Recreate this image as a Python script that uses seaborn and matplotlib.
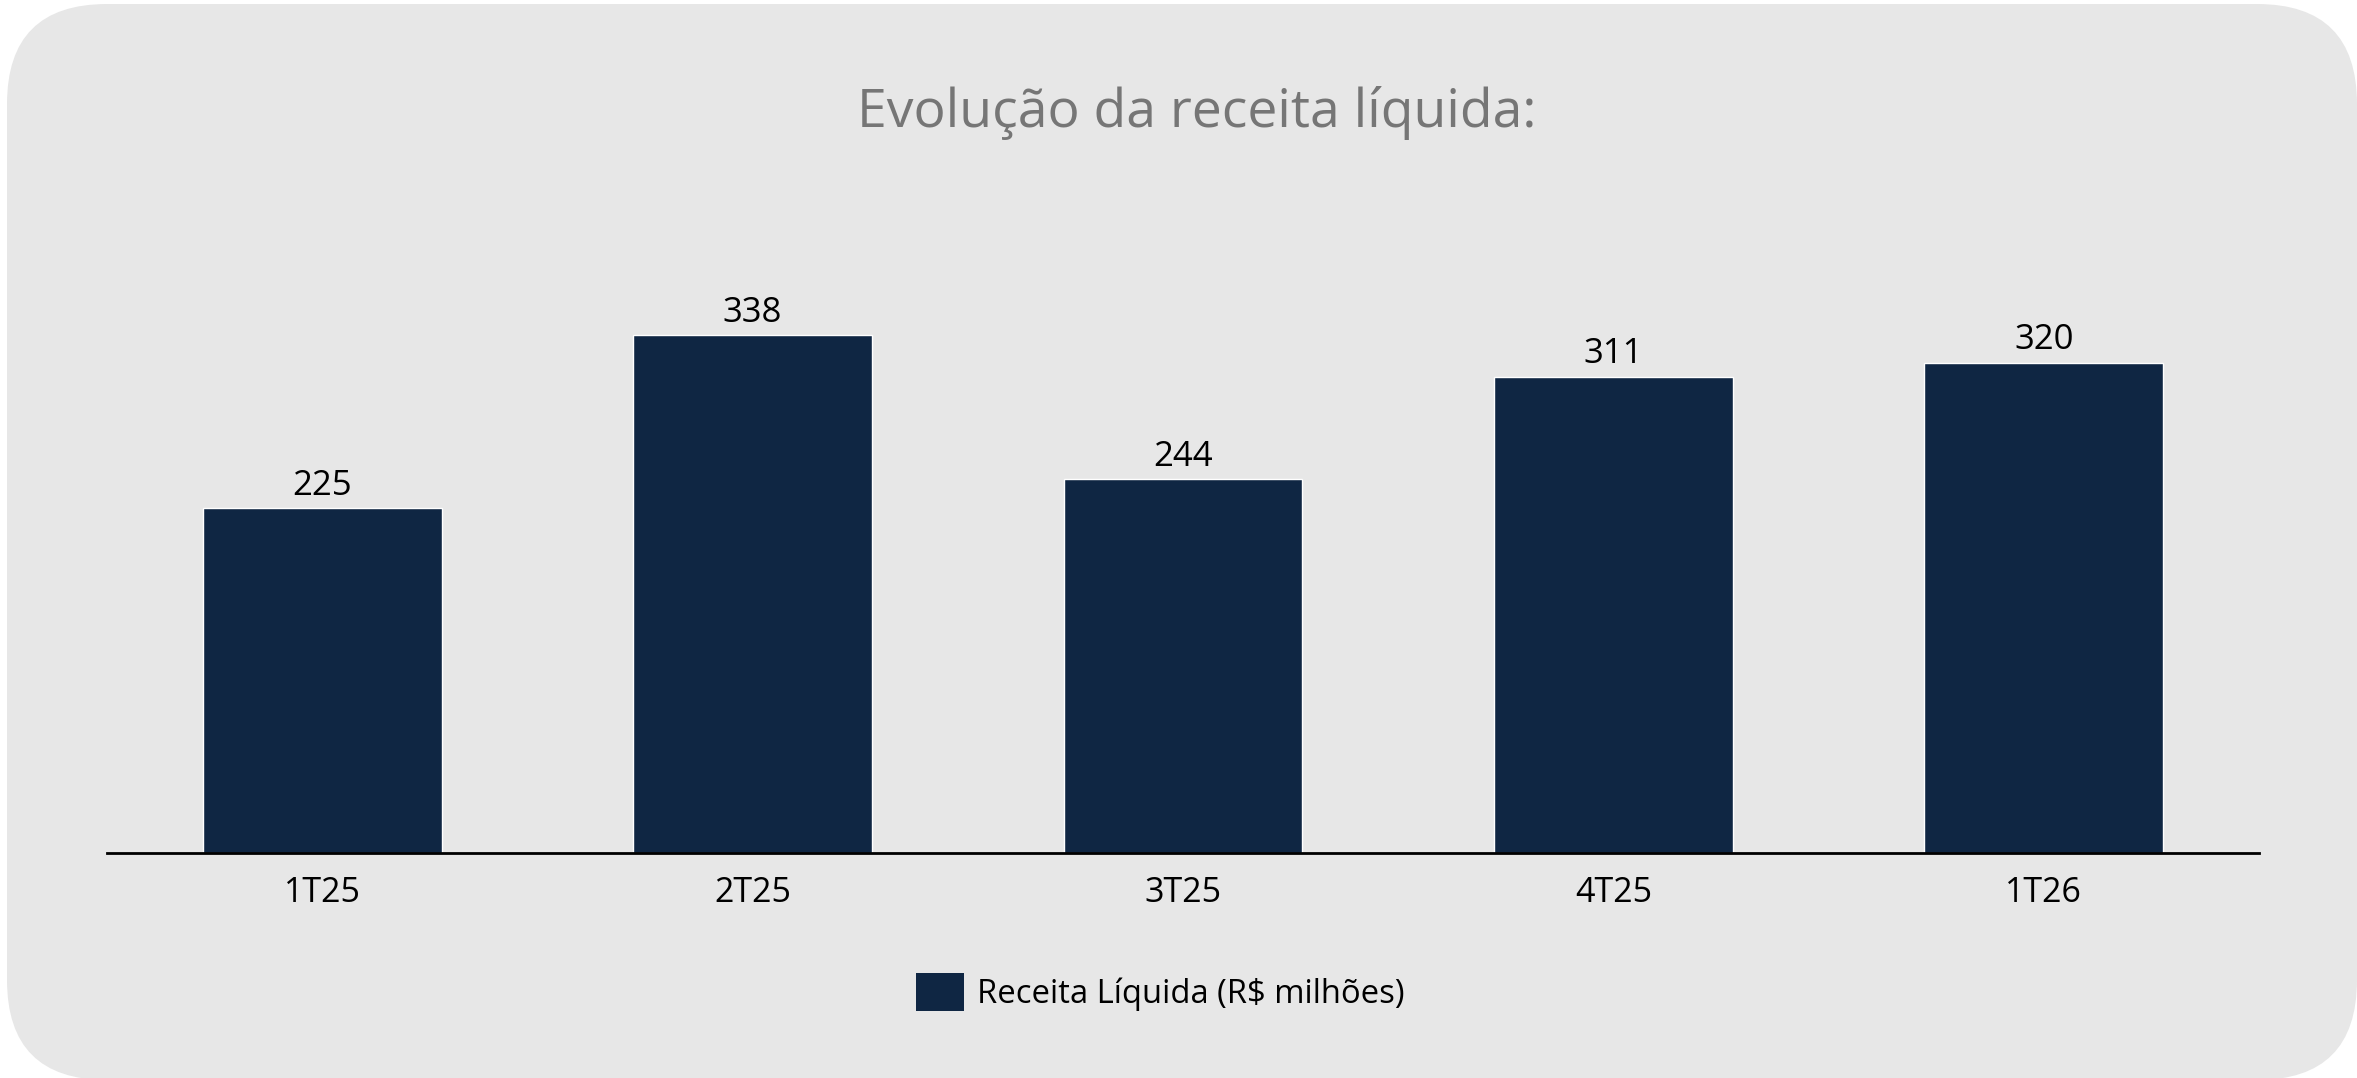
"""
Evolução da receita líquida - gráfico de barras
"""
import matplotlib

matplotlib.use("Agg")
import matplotlib.pyplot as plt
from matplotlib.patches import FancyBboxPatch, Patch
import seaborn as sns

# dados
trimestres = ["1T25", "2T25", "3T25", "4T25", "1T26"]
receita = [225, 338, 244, 311, 320]
titulo = "Evolução da receita líquida:"
legenda = "Receita Líquida (R$ milhões)"

cor_barra = "#0F2643"
cor_fundo = "#E7E7E7"
cor_titulo = "#767676"

sns.set_theme(style="white")
plt.rcParams["font.family"] = ["Open Sans", "DejaVu Sans"]

W, H = 2357, 1078
fig = plt.figure(figsize=(W / 100, H / 100), dpi=100)
fig.patch.set_facecolor("white")

# fundo arredondado
bg = fig.add_axes([0, 0, 1, 1], zorder=-10)
bg.set_xlim(0, W)
bg.set_ylim(H, 0)
bg.axis("off")
bg.add_patch(
    FancyBboxPatch(
        (7, 4), W - 7, H - 4 + 2,
        boxstyle="round,pad=0,rounding_size=100",
        facecolor=cor_fundo, edgecolor="none",
    )
)

# gráfico
ax = fig.add_axes([107 / W, 1 - 852.7 / H, 2152 / W, (852.7 - 250) / H])
ax.patch.set_alpha(0)
sns.barplot(x=trimestres, y=receita, color=cor_barra, width=0.555,
            saturation=1, ax=ax)
ax.set_xlim(-0.5, len(trimestres) - 0.5)
ax.set_ylim(0, (852.7 - 250) / 1.531)

for c in ax.containers:
    ax.bar_label(c, labels=[str(v) for v in receita], padding=4,
                 fontsize=25, color="black")

for s in ["top", "right", "left"]:
    ax.spines[s].set_visible(False)
ax.spines["bottom"].set_color("black")
ax.spines["bottom"].set_linewidth(2)
ax.set_yticks([])
ax.tick_params(axis="x", length=0, pad=17, labelsize=24.5, labelcolor="black")
ax.set_xlabel("")
ax.set_ylabel("")

fig.text(1197 / W, 1 - 113 / H, titulo, ha="center", va="center",
         fontsize=38.5, color=cor_titulo)

fig.legend(
    handles=[Patch(facecolor=cor_barra, edgecolor="none", label=legenda)],
    loc="center", bbox_to_anchor=(1160 / W, 1 - 992 / H),
    frameon=False, fontsize=23.6, handlelength=1.47, handleheight=1.45,
    handletextpad=0.4, labelcolor="black",
)

fig.savefig("out.png", dpi=100)
